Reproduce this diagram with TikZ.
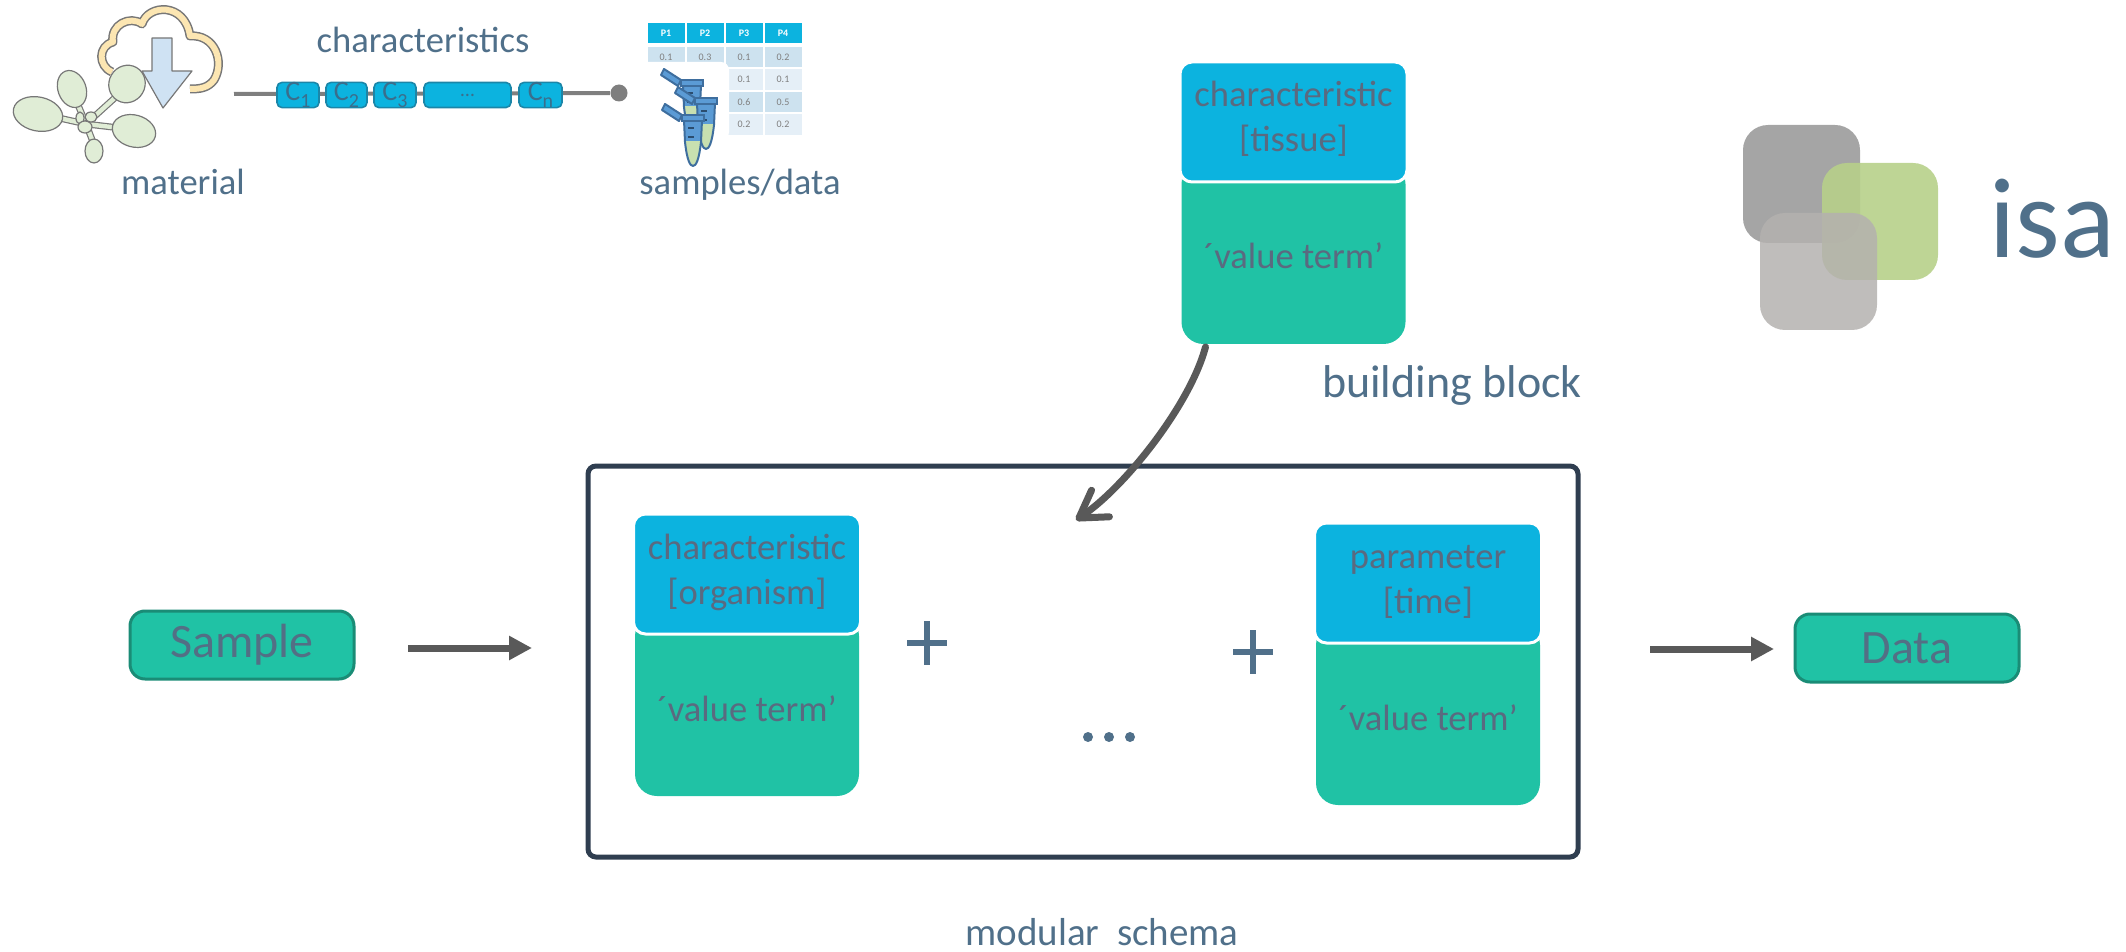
\documentclass[tikz,border=0pt]{standalone}
\usepackage{fontspec}
\setmainfont{Carlito}
\usetikzlibrary{arrows.meta,calc}

\definecolor{cyanbox}{HTML}{0CB3DF}
\definecolor{tealbox}{HTML}{20C2A5}
\definecolor{tealedge}{HTML}{1A8C76}
\definecolor{boxtxt}{HTML}{5A6A80}
\definecolor{termtxt}{HTML}{536F85}
\definecolor{slate}{HTML}{50708A}
\definecolor{framec}{HTML}{2F3E50}
\definecolor{arrowgray}{HTML}{595959}
\definecolor{chainline}{HTML}{7F7F7F}
\definecolor{cedge}{HTML}{1B86A8}
\definecolor{ctext}{HTML}{3A6E8C}
\definecolor{leaf}{HTML}{E0EDD6}
\definecolor{sketch}{HTML}{777777}
\definecolor{cloudband}{HTML}{FCE6B2}
\definecolor{dlarrow}{HTML}{CFE2F3}
\definecolor{tubeblue}{HTML}{5B9BD5}
\definecolor{tubeedge}{HTML}{3E6E9E}
\definecolor{tubetip}{HTML}{C8E0B0}
\definecolor{cellA}{HTML}{CDE2EF}
\definecolor{cellB}{HTML}{E5EFF7}
\definecolor{celltxt}{HTML}{7F7F7F}
\definecolor{isadark}{HTML}{A5A5A5}
\definecolor{isagreen}{HTML}{B7D08A}
\definecolor{isalight}{HTML}{B4B1AF}

\newcommand\fs[2]{\fontsize{#1}{#2}\selectfont}
\newcommand\sub[1]{\raisebox{-3.5pt}{\fs{10}{10}#1}}

% one schema block: cyan header with two lines, green value part
% #1 name, #2 centre x, #3 top y, #4 first line, #5 second line
\newcommand\modblock[5]{%
  \node[valbox] (#1v) at (#2,#3+191) {};
  \node[headbox] (#1h) at (#2,#3+60) {};
  \node[blocktxt] (#1a) at ([yshift=-22.5pt]#1h.north) {#4};
  \node[blocktxt] (#1b) at ([yshift=-45pt]#1h.north) {#5};
  \node[blocktxt] (#1c) at ([yshift=-103.5pt]#1h.north) {´value term’};
}

% a sample tube, rim centre at (#1,#2)
\newcommand\tube[2]{%
  \begin{scope}[shift={(#1,#2)}]
    \filldraw[fill=tubeblue, draw=tubeedge, line width=1pt, line join=round]
      (-11,-1) -- (-28,-12) -- (-31,-6) -- (-14,5) -- cycle;
    \begin{scope}
      \clip (-9,4) -- (9,4) -- (8,26) .. controls (6,44) and (3,50) .. (0,50)
            .. controls (-3,50) and (-6,44) .. (-8,26) -- cycle;
      \fill[tubeblue] (-12,0) rectangle (12,52);
      \fill[tubetip] (-12,25) rectangle (12,52);
    \end{scope}
    \draw[tubeedge, line width=1pt, line join=round]
      (-9,4) -- (9,4) -- (8,26) .. controls (6,44) and (3,50) .. (0,50)
      .. controls (-3,50) and (-6,44) .. (-8,26) -- cycle;
    \filldraw[fill=tubeblue, draw=tubeedge, line width=1pt] (-11,-1) rectangle (11,5);
    \draw[tubeedge!70!black, line width=1pt] (-5,12) -- (1,12) (-5,21) -- (1,21);
  \end{scope}}

\def\cloudpath{(112,72) .. controls (98,66) and (98,46) .. (113,42)
  .. controls (110,25) and (130,15) .. (142,24)
  .. controls (148,4) and (185,2) .. (190,36)
  .. controls (215,34) and (225,62) .. (214,80)
  .. controls (208,88) and (200,89) .. (190,89)}

\begin{document}
\begin{tikzpicture}[x=0.5pt,y=-0.5pt,
  lbl/.style={text=slate, inner sep=0, outer sep=0, anchor=base, font=\fs{18.3}{22}},
  blocktxt/.style={text=boxtxt, inner sep=0, outer sep=0, anchor=base, font=\fs{18.3}{22}},
  headbox/.style={fill=cyanbox, draw=white, line width=1.5pt, rounded corners=6pt,
    minimum width=113.5pt, minimum height=60pt, inner sep=0, outer sep=0},
  valbox/.style={fill=tealbox, rounded corners=11pt, minimum width=112pt,
    minimum height=91pt, inner sep=0, outer sep=0},
  termbox/.style={draw=tealedge, fill=tealbox, line width=1.5pt, rounded corners=7.5pt,
    minimum width=112pt, minimum height=34pt, inner sep=0, outer sep=0,
    text=termtxt, font=\fs{24}{24}},
  frame/.style={draw=framec, line width=2.5pt, rounded corners=4pt,
    minimum width=495pt, minimum height=195.5pt, inner sep=0, outer sep=0},
  fatarrow/.style={arrowgray, line width=3.5pt, -{Triangle[length=11.5pt, width=11.5pt]}},
  bentarrow/.style={arrowgray, line width=3.5pt, line cap=round,
    -{Straight Barb[length=13pt, width=16pt, round]}},
  signline/.style={slate, line width=3pt},
  cbox/.style={draw=cedge, fill=cyanbox, rounded corners=2.5pt, line width=0.8pt,
    minimum height=12.5pt, inner sep=0, outer sep=0, text=ctext, font=\fs{14}{14}},
  hcell/.style={fill=cyanbox, minimum width=18.5pt, minimum height=10pt, inner sep=0,
    text=white, font=\bfseries\fs{5}{5}},
  cellone/.style={fill=cellA, minimum width=18.5pt, minimum height=10.25pt, inner sep=0,
    text=celltxt, font=\fs{5}{5}},
  celltwo/.style={fill=cellB, minimum width=18.5pt, minimum height=10.25pt, inner sep=0,
    text=celltxt, font=\fs{5}{5}},
  leafshape/.style={fill=leaf, draw=sketch, line width=0.6pt},
]
\useasboundingbox (0,0) rectangle (2126,952);

% ---------- material: cloud download and rosette ----------
\draw[sketch, line width=4.5pt, line join=round] \cloudpath;
\draw[cloudband, line width=3pt, line join=round] \cloudpath;
\filldraw[fill=dlarrow, draw=sketch, line width=0.6pt, line join=round]
  (152,38) -- (172,38) -- (172,71) -- (192,71) -- (163,108) -- (142,71) -- (152,71) -- cycle;

\coordinate (stem) at (86,124);
\foreach \p in {(50,116),(76,100),(118,95),(120,128),(93,142)}{
  \draw[sketch, line width=3.4pt, line cap=round] (stem) -- \p;
  \draw[leaf, line width=2.2pt, line cap=round] (stem) -- \p;
}
\filldraw[leafshape, rotate around={-12:(38,114)}] (38,114) ellipse [x radius=25, y radius=17];
\filldraw[leafshape, rotate around={20:(72,89)}] (72,89) ellipse [x radius=14, y radius=19];
\filldraw[leafshape, rotate around={-30:(127,84)}] (127,84) ellipse [x radius=18, y radius=19];
\filldraw[leafshape, rotate around={-15:(134,131)}] (134,131) ellipse [x radius=22, y radius=16];
\filldraw[leafshape] (94,151) ellipse [x radius=9, y radius=12];
\filldraw[leafshape] (80,118) ellipse [x radius=4, y radius=6];
\filldraw[leafshape] (91,117) ellipse [x radius=6, y radius=5];
\filldraw[leafshape] (85,127) ellipse [x radius=7, y radius=6];

\node[lbl] (material) at (183,195) {material};

% ---------- characteristics chain ----------
\node[lbl] (chars) at (423,53) {characteristics};
\coordinate (cs) at (234,94);
\node[circle, fill=chainline, minimum size=8.5pt, inner sep=0] (cend) at (619,93) {};
\draw[chainline, line width=2pt] (cs) -- (cend);
\node[cbox, minimum width=21pt] (c1) at (298,95) {C\sub{1}};
\node[cbox, minimum width=20.5pt] (c2) at (346.5,95) {C\sub{2}};
\node[cbox, minimum width=21pt] (c3) at (395,95) {C\sub{3}};
\node[cbox, minimum width=43.5pt, font=\fs{10}{10}] (cdots) at (467.5,95) {…};
\node[cbox, minimum width=21.5pt] (cn) at (540.5,95) {C\sub{n}};

% ---------- samples/data ----------
\foreach \c/\x in {1/666,2/705,3/744,4/783}
  \node[hcell] (h\c) at (\x,33) {P\c};
\foreach \c/\x/\v in {1/666/0.1,2/705/0.3,3/744/0.1,4/783/0.2}
  \node[cellone] (ra\c) at (\x,57) {\v};
\node[celltwo] (rb3) at (744,79.5) {0.1};
\node[celltwo] (rb4) at (783,79.5) {0.1};
\node[cellone] (rc3) at (744,102) {0.6};
\node[cellone] (rc4) at (783,102) {0.5};
\node[celltwo] (rd3) at (744,124.5) {0.2};
\node[celltwo] (rd4) at (783,124.5) {0.2};
\fill[white] (635,140) -- (635,62) [rounded corners=4pt] -- (729,62) -- (729,140) [sharp corners] -- cycle;
\tube{692}{81}
\tube{706}{99}
\tube{693}{116}
\node[lbl] (samples) at (740,195) {samples/data};

% ---------- building block ----------
\modblock{bb}{1293.5}{62}{characteristic}{[tissue]}
\node[lbl, font=\fs{23}{26}] (bblabel) at (1452,397) {building block};

% ---------- isa logo ----------
\fill[isadark, rounded corners=12.5pt] (1743,125) rectangle (1860,243);
\fill[isagreen, opacity=0.9, rounded corners=12.5pt] (1822,163) rectangle (1938,280);
\fill[isalight, opacity=0.85, rounded corners=12.5pt] (1760,213) rectangle (1877,330);
\node[lbl, font=\fs{57}{60}] (isa) at (2052,258) {isa};

% ---------- modular schema ----------
\node[frame] (frame) at (1083,661.5) {};
\modblock{ba}{747}{514}{characteristic}{[organism]}
\modblock{bc}{1428}{523}{parameter}{[time]}

\coordinate (plusa) at (927,643);
\coordinate (plusb) at (1253,652);
\foreach \q in {plusa,plusb}{
  \draw[signline] ($(\q)+(-20,0)$) -- ($(\q)+(20,0)$);
  \draw[signline] ($(\q)+(0,-22)$) -- ($(\q)+(0,22)$);
}
\foreach \x in {1088,1109,1130}
  \fill[slate] (\x,737) circle [radius=5];

\node[lbl, font=\fs{19.5}{22}] (schema) at (1102,945) {modular\ \ schema};

% ---------- sample and data ----------
\node[termbox] (sample) at (242,645) {Sample};
\node[termbox] (data) at (1907,648) {Data};
\path ([xshift=27pt,yshift=-1.5pt]sample.east) coordinate (s0);
\path (s0 -| frame.west) coordinate (f0);
\draw[fatarrow] (s0) -- ([xshift=-28pt]f0);
\path (frame.east |- data.west) coordinate (f1);
\draw[fatarrow] ([xshift=36pt,yshift=-0.5pt]f1) -- ([xshift=-10.5pt,yshift=-0.5pt]data.west);

% building block dropped into the schema
\coordinate (drop) at (1076,520);
\draw[bentarrow] ([xshift=-44pt,yshift=-1.5pt]bbv.south) .. controls (1190,405) and (1125,487) .. (drop);

\end{tikzpicture}
\end{document}
